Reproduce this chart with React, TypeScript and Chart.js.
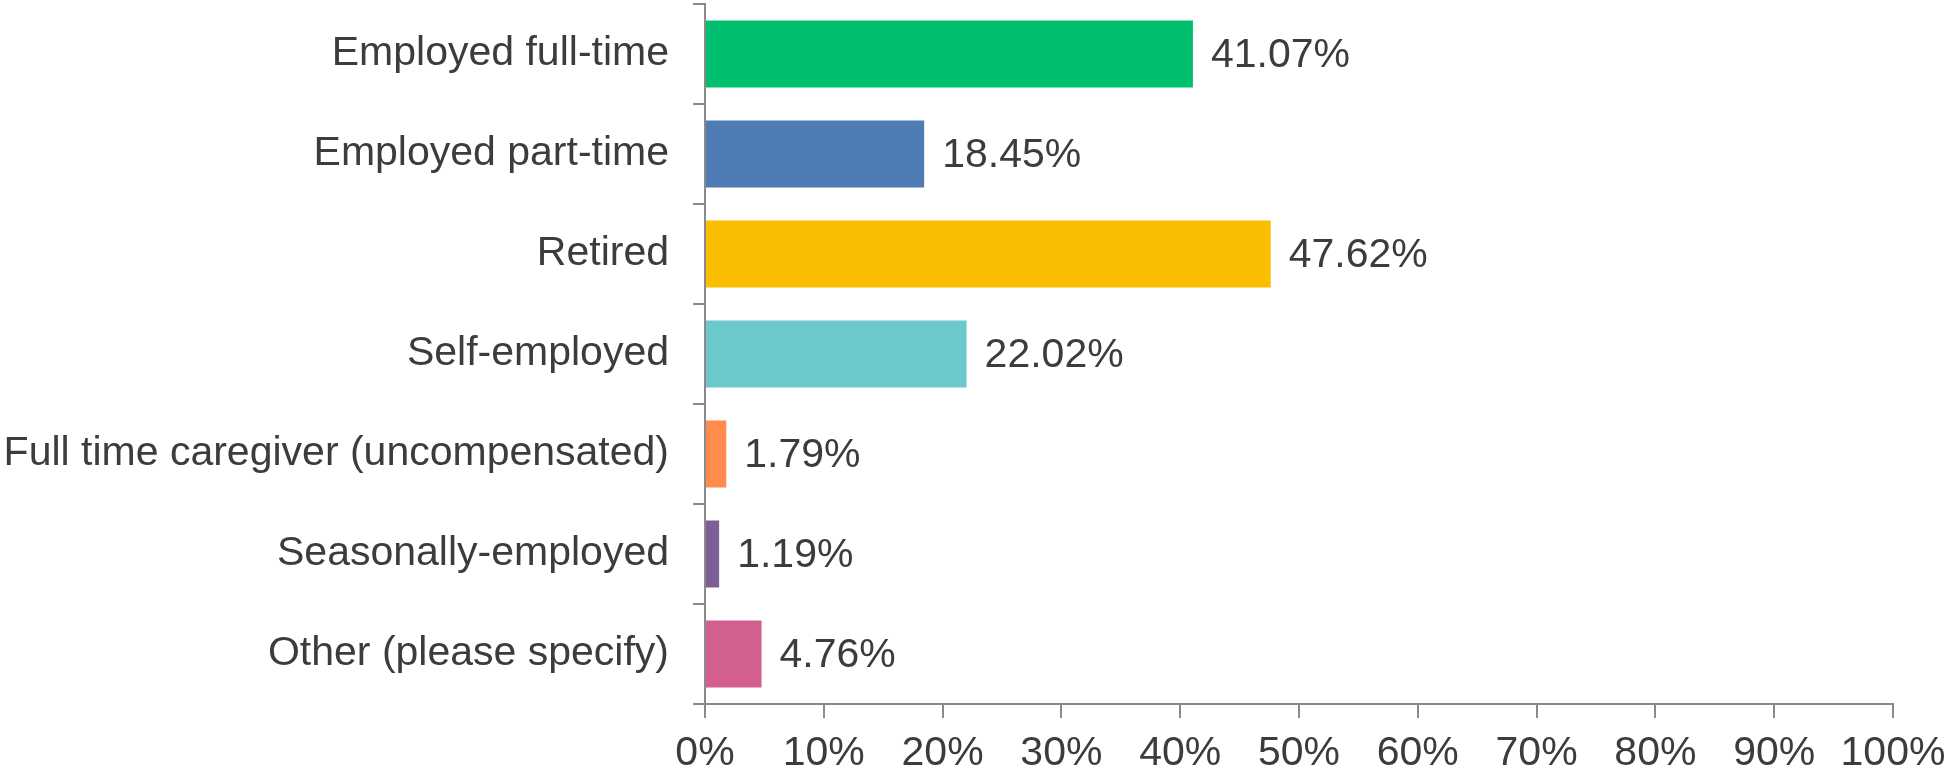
import React, { useEffect, useRef } from "react";
import { Chart, registerables } from "chart.js";

Chart.register(...registerables);

const categories = [
  "Employed full-time",
  "Employed part-time",
  "Retired",
  "Self-employed",
  "Full time caregiver (uncompensated)",
  "Seasonally-employed",
  "Other (please specify)",
];
const values = [41.07, 18.45, 47.62, 22.02, 1.79, 1.19, 4.76];
const barColors = ["#00BF6F", "#507CB6", "#F9BE00", "#6BC8CD", "#FF8B4F", "#7D5E95", "#D25F90"];
const xTicks = [0, 10, 20, 30, 40, 50, 60, 70, 80, 90, 100];

const FONT = "'Liberation Sans', Arial, sans-serif";
const FS = 41;
const TEXT = "#3c3c3c";
const AXIS = "#8a8a8a";

const valueLabels = {
  id: "valueLabels",
  afterDatasetsDraw(chart: any) {
    const ctx = chart.ctx;
    const meta = chart.getDatasetMeta(0);
    ctx.save();
    ctx.font = `${FS}px ${FONT}`;
    ctx.fillStyle = TEXT;
    ctx.textAlign = "left";
    ctx.textBaseline = "middle";
    meta.data.forEach((el: any, i: number) => {
      ctx.fillText(values[i].toFixed(2) + "%", el.x + 18, el.y + 2);
    });
    ctx.restore();
  },
};

export default function App() {
  const ref = useRef<HTMLCanvasElement>(null);
  useEffect(() => {
    const chart = new Chart(ref.current!, {
      type: "bar",
      data: {
        labels: categories,
        datasets: [
          {
            data: values,
            backgroundColor: barColors,
            barPercentage: 0.67,
            categoryPercentage: 1,
          },
        ],
      },
      plugins: [valueLabels],
      options: {
        indexAxis: "y",
        animation: false,
        responsive: true,
        maintainAspectRatio: false,
        layout: { padding: { top: 4, right: 51, left: 0, bottom: 0 } },
        plugins: { legend: { display: false }, tooltip: { enabled: false } },
        scales: {
          x: {
            min: 0,
            max: 100,
            afterBuildTicks: (scale: any) => {
              scale.ticks = xTicks.map((v) => ({ value: v }));
            },
            afterFit: (scale: any) => {
              scale.height = 69;
              scale.paddingLeft = 0;
              scale.paddingRight = 0;
            },
            ticks: {
              callback: (v: any) => v + "%",
              color: TEXT,
              font: { family: FONT, size: FS },
              padding: 11,
              maxRotation: 0,
              autoSkip: false,
            },
            grid: { drawOnChartArea: false, tickLength: 14, color: AXIS, lineWidth: 2 },
            border: { color: AXIS, width: 2 },
          },
          y: {
            afterFit: (scale: any) => {
              scale.width = 705;
              scale.paddingTop = 0;
              scale.paddingBottom = 0;
            },
            ticks: {
              color: TEXT,
              font: { family: FONT, size: FS },
              padding: 24,
              autoSkip: false,
            },
            grid: { drawOnChartArea: false, offset: true, tickLength: 12, color: AXIS, lineWidth: 2 },
            border: { color: AXIS, width: 2 },
          },
        },
      },
    } as any);
    return () => chart.destroy();
  }, []);
  return (
    <div style={{ position: "fixed", left: 0, top: 0, width: 1944, height: 773, background: "#fff" }}>
      <canvas ref={ref} />
    </div>
  );
}
